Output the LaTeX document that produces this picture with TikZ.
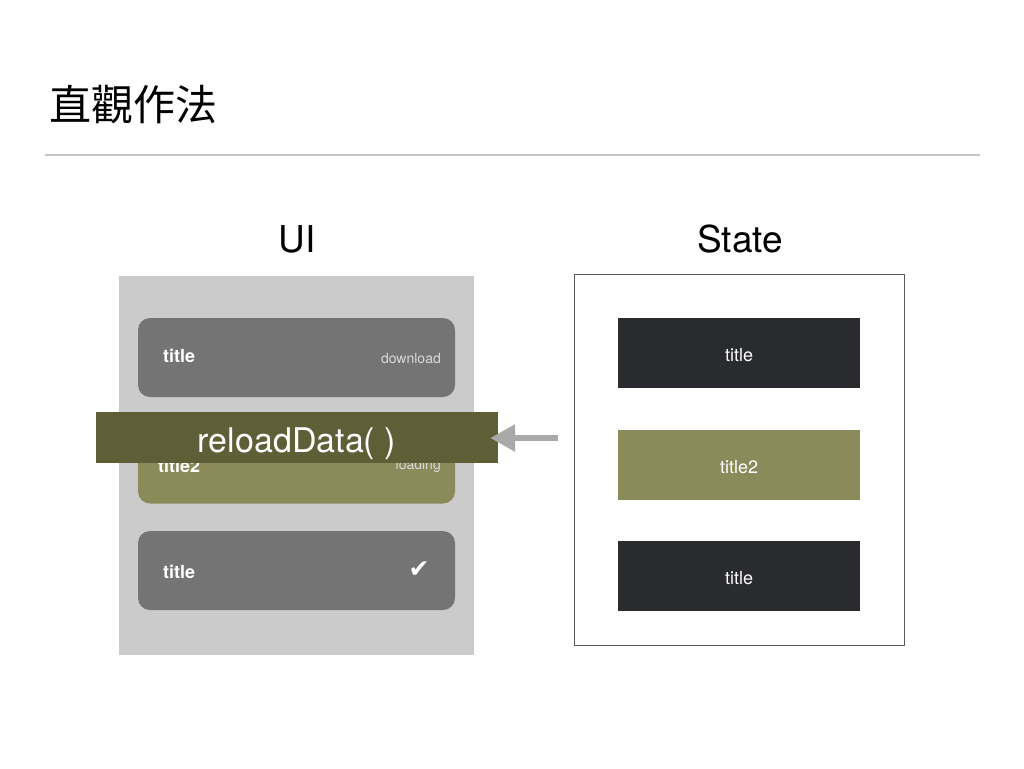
\documentclass[tikz,border=0pt]{standalone}
\usepackage{fontspec}
\setmainfont{TeX Gyre Heros}
\newfontfamily\cjkfont{Noto Sans CJK TC}
\newfontfamily\symfont{DejaVu Sans}
\usetikzlibrary{arrows.meta}
\definecolor{panelgray}{HTML}{CBCBCB}
\definecolor{cardgray}{HTML}{747474}
\definecolor{cardolive}{HTML}{8A8A5A}
\definecolor{reloadolive}{HTML}{5E5F37}
\definecolor{statedark}{HTML}{2A2B2F}
\definecolor{rulegray}{HTML}{C4C4C4}
\definecolor{arrowgray}{HTML}{A9A9A9}
\begin{document}
\begin{tikzpicture}[x=1pt,y=-1pt]

    \tikzset{
      card/.style={
        fill=cardgray,
        rounded corners=12pt,
        minimum width=317pt,
        minimum height=79pt,
        inner sep=0pt,
      },
      cardtitle/.style={
        anchor=west,
        inner sep=0pt,
        text=white,
        font=\fontsize{18}{20}\selectfont\bfseries,
      },
      cardnote/.style={
        anchor=east,
        inner sep=0pt,
        text=white!85!black,
        font=\fontsize{14}{16}\selectfont,
      },
      stateitem/.style={
        fill=statedark,
        minimum width=242pt,
        minimum height=70pt,
        inner sep=0pt,
        text height=17pt,
        text depth=0pt,
        text=white,
        font=\fontsize{18}{20}\selectfont,
      },
      heading/.style={
        font=\fontsize{37}{42}\selectfont,
      },
    }
    \useasboundingbox (0,0) rectangle (1024,768);
    	\node[anchor=west, inner sep=0pt, font=\cjkfont\fontsize{42}{48}\selectfont] (pagetitle) at (49,105) {直觀作法};
	\draw[color=rulegray, line width=1.5pt] (45,155)--(980,155);
	\node[heading] (uilabel) at (297,239) {UI};
	\node[heading] (statelabel) at (740,239) {State};

	% UI side
	\node[fill=panelgray, minimum width=355pt, minimum height=379pt, inner sep=0pt] (panel) at (296.5,465.5) {};
	\node[card] (cardA) at (296.5,357.5) {};
	\node[card, fill=cardolive] (cardB) at (296.5,464) {};
	\node[card] (cardC) at (296.5,570.5) {};
	\node[cardtitle] (cardAtitle) at (163,356) {title};
	\node[cardnote] (cardAnote) at (441,358) {download};
	\node[cardtitle] (cardBtitle) at (158,466) {title2};
	\node[cardnote] (cardBnote) at (441,466) {loading};
	\node[cardtitle] (cardCtitle) at (163,572) {title};
	\node[text=white, font=\symfont\fontsize{25}{27}\selectfont] (cardCcheck) at (419,570) {✔};

	% State side
	\node[draw=black!65, line width=0.8pt, minimum width=330pt, minimum height=371pt, inner sep=0pt] (statebox) at (739,459.5) {};
	\node[stateitem] (stateA) at (739,353) {title};
	\node[stateitem, fill=cardolive] (stateB) at (739,464.5) {title2};
	\node[stateitem] (stateC) at (739,576) {title};

	% reload
	\node[fill=reloadolive, minimum width=402pt, minimum height=51pt, inner sep=0pt, text height=29pt, text depth=0pt, text=white, font=\fontsize{34}{36}\selectfont] (reload) at (297,437.5) {reloadData( )};
	\coordinate (arrowstart) at (558,438);
	\draw[color=arrowgray, line width=6pt, -{Triangle[length=25pt,width=26pt]}] (arrowstart)--([xshift=-8pt,yshift=-0.5pt]reload.east);

\end{tikzpicture}
\end{document}
